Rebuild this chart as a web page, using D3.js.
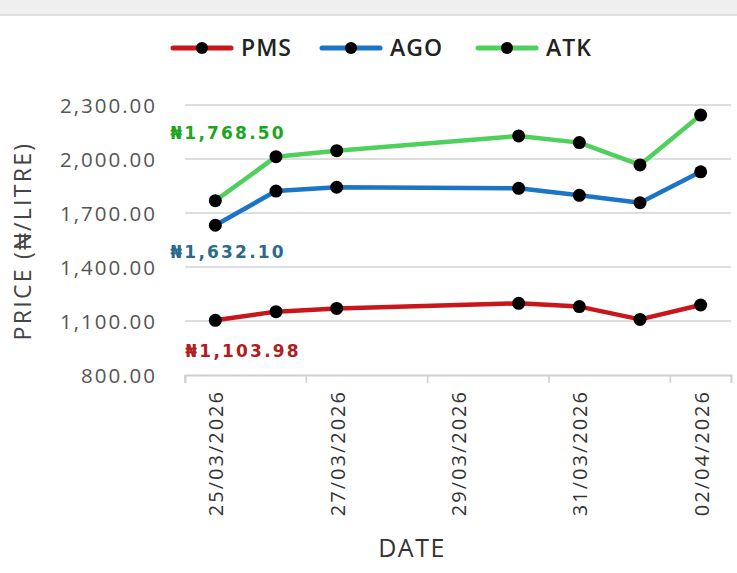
<!DOCTYPE html>
<html>
<head>
<meta charset="utf-8">
<script src="https://cdn.jsdelivr.net/npm/d3@7"></script>
<style>
  body { margin: 0; background: #fff; }
  svg { display: block; }
</style>
</head>
<body>
<script>
// Chart data
let allDates = ["25/03/2026", "26/03/2026", "27/03/2026", "28/03/2026", "29/03/2026",
                "30/03/2026", "31/03/2026", "01/04/2026", "02/04/2026"];
let tickDates = ["25/03/2026", "27/03/2026", "29/03/2026", "31/03/2026", "02/04/2026"];
let priceDates = ["25/03/2026", "26/03/2026", "27/03/2026", "30/03/2026",
                  "31/03/2026", "01/04/2026", "02/04/2026"];
let pmsValues = [1103.98, 1152, 1170, 1198, 1180, 1109, 1189];
let agoValues = [1632.10, 1822, 1843, 1837, 1798, 1757, 1929];
let atkValues = [1768.50, 2013, 2046, 2128, 2091, 1967, 2244];
let yTicks = [800, 1100, 1400, 1700, 2000, 2300];

let series = [
    { name: "PMS", values: pmsValues, color: "#c8161b", labelColor: "#b01e1e", dx: -30, dy: 37 },
    { name: "AGO", values: agoValues, color: "#1c74c6", labelColor: "#2a6a8e", dx: -45, dy: 33 },
    { name: "ATK", values: atkValues, color: "#4fcf5b", labelColor: "#1ea51e", dx: -45, dy: -62 }
];

// SVG dimensions
let svgWidth = 737;
let svgHeight = 573;
let plot = { left: 185, right: 731, top: 105, bottom: 375 };

let svg = d3.select("body")
            .append("svg")
            .attr("width", svgWidth)
            .attr("height", svgHeight);

// faint strip at the top of the picture
svg.append("rect").attr("x", 0).attr("y", 0).attr("width", svgWidth).attr("height", 14).attr("fill", "#efefef");
svg.append("line").attr("x1", 0).attr("x2", svgWidth).attr("y1", 15).attr("y2", 15)
   .attr("stroke", "#d6d6d6").attr("stroke-width", 1.5);

// scales
let xScale = d3.scaleBand().domain(allDates).range([plot.left, plot.right]).padding(0);
let bw = xScale.bandwidth();
let xc = d => xScale(d) + bw / 2;
let yScale = d3.scaleLinear().domain([800, 2300]).range([plot.bottom, plot.top]);

// gridlines
svg.append("g")
   .selectAll("line")
   .data(yTicks.slice(1))
   .enter()
   .append("line")
   .attr("x1", plot.left)
   .attr("x2", plot.right)
   .attr("y1", d => yScale(d))
   .attr("y2", d => yScale(d))
   .attr("stroke", "#dedede")
   .attr("stroke-width", 2);

// y axis labels
let yAxis = d3.axisLeft(yScale).tickValues(yTicks).tickFormat(d3.format(",.2f")).tickSize(0).tickPadding(0);
let yAxisG = svg.append("g").attr("transform", "translate(157,0)").call(yAxis);
yAxisG.select(".domain").remove();
yAxisG.selectAll("text")
      .attr("font-family", "'Open Sans', sans-serif")
      .attr("font-size", 20.5)
      .attr("letter-spacing", "2px")
      .attr("fill", "#555")
      .attr("dy", "0.35em");

// x axis
let xAxis = d3.axisBottom(xScale).tickValues(tickDates).tickSizeOuter(0).tickSize(8);
let xAxisG = svg.append("g").attr("transform", `translate(0,${plot.bottom})`).call(xAxis);
xAxisG.select(".domain").attr("stroke", "#cfcfcf").attr("stroke-width", 2);
xAxisG.selectAll(".tick line")
      .attr("stroke", "#cfcfcf")
      .attr("stroke-width", 1.5)
      .attr("x1", -bw / 2)
      .attr("x2", -bw / 2);
xAxisG.selectAll(".tick text")
      .attr("font-family", "'Open Sans', sans-serif")
      .attr("font-size", 20)
      .attr("letter-spacing", "2px")
      .attr("fill", "#333")
      .attr("text-anchor", "end")
      .attr("transform", "rotate(-90)")
      .attr("x", -15)
      .attr("y", 8)
      .attr("dy", 0);

// axis titles
svg.append("text")
   .attr("transform", "translate(31,241) rotate(-90)")
   .attr("text-anchor", "middle")
   .attr("font-family", "'Open Sans', sans-serif")
   .attr("font-size", 23)
   .attr("letter-spacing", "2.3px")
   .attr("fill", "#444")
   .text("PRICE (₦/LITRE)");

svg.append("text")
   .attr("x", 412)
   .attr("y", 557)
   .attr("text-anchor", "middle")
   .attr("font-family", "'Open Sans', sans-serif")
   .attr("font-size", 25)
   .attr("letter-spacing", "1.5px")
   .attr("fill", "#333")
   .text("DATE");

// lines and points
let line = d3.line()
             .x((d, i) => xc(priceDates[i]))
             .y(d => yScale(d));

series.forEach(s => {
    svg.append("path")
       .datum(s.values)
       .attr("d", line)
       .attr("fill", "none")
       .attr("stroke", s.color)
       .attr("stroke-width", 4.5)
       .attr("stroke-linejoin", "round");
    svg.append("g")
       .selectAll("circle")
       .data(s.values)
       .enter()
       .append("circle")
       .attr("cx", (d, i) => xc(priceDates[i]))
       .attr("cy", d => yScale(d))
       .attr("r", 6.5)
       .attr("fill", "#000");
    // first value annotation
    svg.append("text")
       .attr("x", xc(priceDates[0]) + s.dx)
       .attr("y", yScale(s.values[0]) + s.dy)
       .attr("font-family", "'DejaVu Sans', sans-serif")
       .attr("font-weight", "bold")
       .attr("font-size", 17)
       .attr("letter-spacing", "2.2px")
       .attr("fill", s.labelColor)
       .text("₦" + d3.format(",.2f")(s.values[0]));
});

// legend
let legendX = [173, 322, 478];
let legend = svg.append("g");
series.forEach((s, i) => {
    let g = legend.append("g").attr("transform", `translate(${legendX[i]},48)`);
    g.append("line").attr("x1", 0).attr("x2", 58).attr("y1", 0).attr("y2", 0)
     .attr("stroke", s.color).attr("stroke-width", 5).attr("stroke-linecap", "round");
    g.append("circle").attr("cx", 29).attr("cy", 0).attr("r", 6).attr("fill", "#000");
    g.append("text")
     .attr("x", 68)
     .attr("y", 0)
     .attr("dy", "0.36em")
     .attr("font-family", "'Open Sans', sans-serif")
     .attr("font-size", 23)
     .attr("font-weight", 600)
     .attr("letter-spacing", "1px")
     .attr("fill", "#222")
     .text(s.name);
});
</script>
</body>
</html>
